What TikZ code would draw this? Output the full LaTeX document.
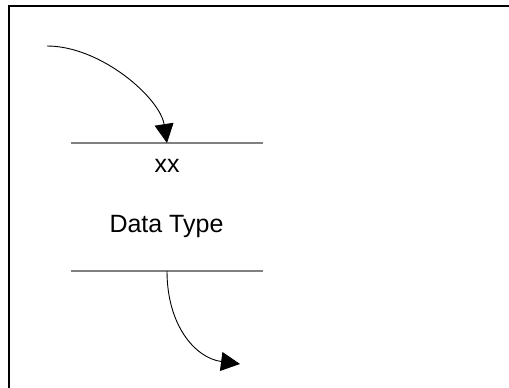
\documentclass[tikz,border=0pt]{standalone}
\usepackage{fontspec}
\setmainfont{Liberation Sans}
\usetikzlibrary{arrows.meta}
\definecolor{storegray}{RGB}{128,128,128}
\tikzset{
  frameline/.style={line width=2pt, black},
  storeline/.style={line width=1.2pt, storegray},
  flow/.style={line width=0.9pt, black, -{Triangle[length=19pt,width=19pt]}},
  label/.style={anchor=base, inner sep=0pt, font=\fontsize{25}{30}\selectfont}
}
\begin{document}
\begin{tikzpicture}[x=1pt,y=-1pt]
  \useasboundingbox (0,0) rectangle (509,388);
  \fill[white] (0,0) rectangle (509,388);
  % outer frame (top and left edges)
  \draw[frameline] (509,6) -- (9,6) -- (9,388);
  % data store: two horizontal bars
  \node (store) [minimum width=192pt, minimum height=128pt, inner sep=0pt, outer sep=0pt] at (167,207) {};
  \draw[storeline] (store.north west) -- (store.north east);
  \draw[storeline] (store.south west) -- (store.south east);
  \node[label] (id) at (167,172.5) {xx};
  \node[label] (name) at (166.5,232) {Data Type};
  % incoming and outgoing flows
  \coordinate (src) at (47,46);
  \coordinate (dst) at (240,364);
  \draw[flow] (src) .. controls (101,46) and (160,98) .. (store.north);
  \draw[flow] (store.south) .. controls (167,325) and (195,358) .. (dst);
\end{tikzpicture}
\end{document}
